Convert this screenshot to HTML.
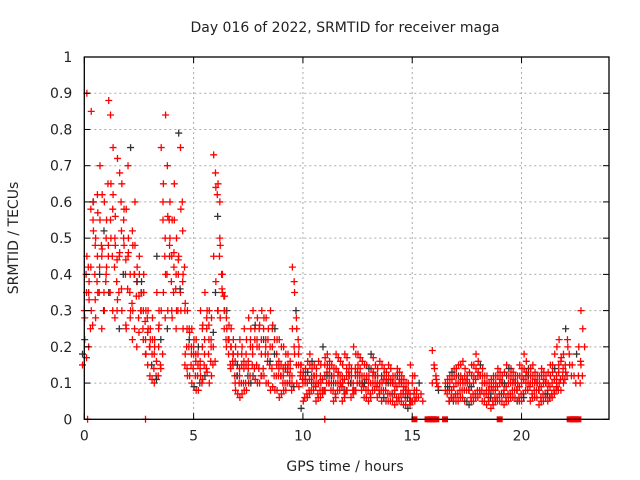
<!DOCTYPE html>
<html><head><meta charset="utf-8"><style>
body{margin:0;background:#fff}
svg{display:block;font-family:"DejaVu Sans","Liberation Sans",sans-serif}
</style></head><body>
<svg id="chart" width="640" height="480">
<text x="345" y="32" text-anchor="middle" font-size="14" fill="#222">Day 016 of 2022, SRMTID for receiver maga</text>
<text x="345" y="471" text-anchor="middle" font-size="14" fill="#222">GPS time / hours</text>
<text transform="translate(18,238) rotate(-90)" text-anchor="middle" font-size="14" fill="#222">SRMTID / TECUs</text>
<g id="grid"></g><g id="marks"></g><g id="axes"></g>
</svg>
<script>
const xTicks=[0,5,10,15,20];
const yTicks=[0,0.1,0.2,0.3,0.4,0.5,0.6,0.7,0.8,0.9,1];
const yTickLabels=["0","0.1","0.2","0.3","0.4","0.5","0.6","0.7","0.8","0.9","1"];
const hours=[0.0,0.2,0.4,0.6,0.8,1.0,1.2,1.4,1.6,1.8,2.0,2.2,2.4,2.6,2.8,3.0,3.2,3.4,3.6,3.8,4.0,4.2,4.4,4.6,4.8,5.0,5.2,5.4,5.6,5.8,6.0,6.2,6.4,6.6,6.8,7.0,7.2,7.4,7.6,7.8,8.0,8.2,8.4,8.6,8.8,9.0,9.2,9.4,9.6,9.8,10.0,10.2,10.4,10.6,10.8,11.0,11.2,11.4,11.6,11.8,12.0,12.2,12.4,12.6,12.8,13.0,13.2,13.4,13.6,13.8,14.0,14.2,14.4,14.6,14.8,15.0,15.2,15.4,16.0,16.2,16.6,16.8,17.0,17.2,17.4,17.6,17.8,18.0,18.2,18.4,18.6,18.8,19.0,19.2,19.4,19.6,19.8,20.0,20.2,20.4,20.6,20.8,21.0,21.2,21.4,21.6,21.8,22.0,22.2,22.4,22.6,22.8];
const values=[[18,30,40,15],[90,35,25,45,20],[85,60,40,30,55],[50,62,35,28,45],[70,45,30,55,25],[60,40,65,30,50],[88,84,45,35,55],[75,50,38,62,28],[72,45,60,33,25],[65,50,40,30,55],[58,45,35,25,70],[75,52,40,30,22],[48,38,28,60,20],[45,35,25,40,30],[35,22,28,40,18],[30,20,15,25,12],[28,18,12,22,10],[35,25,15,45,20],[75,60,45,30,55],[84,70,55,40,25],[60,45,35,50,30],[65,40,30,55,25],[79,75,60,45,35],[40,30,20,25,15],[30,22,15,12,25],[25,18,12,10,20],[22,15,10,8,18],[30,20,15,12,25],[35,25,18,12,28],[30,20,15,10,22],[73,68,62,45,35],[65,60,40,30,50],[40,30,22,35,25],[30,22,15,25,18],[25,18,12,20,15],[20,15,10,8,12],[22,15,10,6,18],[25,18,12,8,15],[28,20,15,10,22],[30,22,15,12,25],[28,20,12,10,25],[30,25,18,12,22],[28,22,15,10,18],[30,20,12,8,25],[25,18,12,8,15],[22,15,10,6,12],[20,14,10,8,15],[18,12,8,15,10],[42,38,30,25,20],[25,18,12,10,15],[15,10,6,3,12],[14,10,8,12,6],[18,12,8,15,10],[15,10,7,12,5],[16,12,8,10,6],[20,15,10,8,12],[18,12,8,15,10],[15,10,7,12,5],[18,12,8,14,10],[16,12,8,10,5],[18,14,10,7,12],[15,10,8,12,6],[20,14,10,8,12],[18,12,8,15,10],[16,12,8,10,6],[15,10,7,12,5],[18,12,8,14,10],[15,10,8,12,6],[16,12,8,10,5],[14,10,7,12,5],[15,10,7,12,5],[12,8,6,10,4],[14,10,7,12,5],[12,8,6,10,4],[10,7,5,8,3],[15,10,7,5],[12,8,6,5],[10,7,5],[19,15,12,10],[10,8],[10,7,5,8],[12,8,5,10,6],[14,10,7,12,5],[15,10,8,12,6],[16,12,8,10,5],[12,8,6,10,4],[15,10,7,12,5],[18,12,8,14,6],[15,10,7,12,5],[12,8,6,10,4],[10,7,5,8,3],[12,8,6,10,5],[14,10,7,12,5],[12,8,6,10,4],[15,10,7,12,5],[14,10,8,12,6],[12,8,6,10,5],[15,10,7,12,5],[18,12,8,14,10],[14,10,7,12,5],[15,10,8,12,6],[12,8,6,10,4],[14,10,7,12,5],[12,8,6,10,5],[15,10,8,12,6],[18,12,8,14,10],[22,16,12,10,8],[18,15,12,10],[20,15,12],[15,12,10],[18,12,10],[30,25,20,15]];
const hoursB=[0.1,0.3,0.5,0.7,0.9,1.1,1.3,1.5,1.7,1.9,2.1,2.3,2.5,2.7,2.9,3.1,3.3,3.5,3.7,3.9,4.1,4.3,4.5,4.7,4.9,5.1,5.3,5.5,5.7,5.9,6.1,6.3,6.5,6.7,6.9,7.1,7.3,7.5,7.7,7.9,8.1,8.3,8.5,8.7,8.9,9.1,9.3,9.5,9.7,9.9,10.1,10.3,10.5,10.7,10.9,11.1,11.3,11.5,11.7,11.9,12.1,12.3,12.5,12.7,12.9,13.1,13.3,13.5,13.7,13.9,14.1,14.3,14.5,14.7,14.9,15.1,16.1,16.7,16.9,17.1,17.3,17.5,17.7,17.9,18.1,18.3,18.5,18.7,18.9,19.1,19.3,19.5,19.7,19.9,20.1,20.3,20.5,20.7,20.9,21.1,21.3,21.5,21.7,21.9,22.1,22.7];
const valuesB=[[22,35,42,28,17],[33,42,26,38,58],[60,48,38,52,33],[57,42,48,35,40],[62,52,38,47,35],[55,45,35,42,48],[65,58,42,50,30],[56,44,35,48,30],[68,52,40,46,36],[58,44,36,48,26],[50,40,32,46,28],[48,40,34,30,25],[42,34,30,38,24],[38,30,27,35,22],[30,24,20,18,15],[25,18,14,22,11],[22,16,12,20,11],[30,22,18,26,14],[65,50,40,35,28],[56,45,38,30,48],[55,42,36,28,46],[50,44,36,30,40],[58,52,42,30,38],[32,25,20,18,14],[24,18,14,12,20],[22,16,12,9,18],[20,14,10,8,16],[26,18,14,11,22],[30,22,16,13,26],[28,20,16,12,24],[64,56,45,38,30],[48,40,34,28,36],[34,28,22,30,20],[26,20,16,22,14],[22,16,12,18,10],[18,14,10,7,12],[20,14,10,7,16],[22,16,12,8,14],[25,18,14,10,20],[26,20,14,11,22],[26,18,14,10,22],[28,22,16,12,20],[25,20,14,10,16],[26,18,12,9,22],[22,16,12,8,14],[20,14,10,7,12],[18,13,10,8,14],[16,12,9,14,10],[35,28,22,18,15],[20,15,11,9,13],[13,10,7,5,11],[16,11,8,13,7],[16,12,9,14,10],[14,10,8,12,6],[15,11,8,10,7],[17,13,10,8,12],[16,12,8,14,10],[14,10,8,12,6],[17,12,9,13,10],[15,11,8,10,6],[17,13,10,8,12],[14,10,8,12,7],[18,13,10,8,12],[17,12,9,14,10],[15,11,8,10,6],[14,10,8,12,6],[17,12,9,13,10],[14,10,8,12,7],[15,11,8,10,6],[13,10,7,11,5],[14,10,7,11,5],[12,9,6,10,5],[13,10,7,11,5],[11,8,6,9,4],[10,7,5,8,4],[12,8,6,5],[14,11,9],[11,8,6,9,5],[13,9,7,11,6],[14,10,8,12,5],[15,11,8,12,6],[14,11,8,10,5],[13,9,7,10,5],[15,11,8,12,6],[16,12,8,13,7],[14,10,7,12,5],[12,8,6,10,5],[11,8,6,9,4],[12,9,7,10,5],[13,10,7,11,5],[13,9,7,10,5],[14,10,8,12,6],[13,10,8,11,6],[12,9,7,10,5],[14,11,8,12,6],[16,12,9,13,10],[14,10,8,12,6],[13,10,8,11,6],[12,9,7,10,5],[13,10,7,11,6],[13,9,7,10,6],[15,11,8,13,7],[20,15,11,9,13],[17,14,11],[25,22,18,13],[20,16,12]];
const zeroHours=[15.1,15.7,15.8,15.9,16.0,16.1,16.5,19.0,22.2,22.3,22.4,22.5,22.6];
const grayZeroHours=[0.15,2.8,11.0];
const NS="http://www.w3.org/2000/svg";
const L=84.3,R=609,T=57,B=419.3;
const xs=h=>L+h/24*(R-L);
const ys=v=>B-v*(B-T);
function mk(tag,attrs,parent){const e=document.createElementNS(NS,tag);for(const k in attrs)e.setAttribute(k,attrs[k]);parent.appendChild(e);return e;}
const grid=document.getElementById('grid'),marks=document.getElementById('marks'),axes=document.getElementById('axes');
yTicks.forEach((t,i)=>{const y=ys(t);
 if(t>0&&t<1){const g=mk('line',{x1:L,x2:R,y1:y,y2:y,stroke:'#aaa','stroke-dasharray':'2,3'},grid);
 
 }
 mk('line',{x1:L,x2:L+6,y1:y,y2:y,stroke:'#000'},axes);mk('line',{x1:R,x2:R-6,y1:y,y2:y,stroke:'#000'},axes);
 const tx=mk('text',{x:L-12,y:y+5,'text-anchor':'end','font-size':14,fill:'#222'},axes);tx.textContent=yTickLabels[i];
 
 });
xTicks.forEach(t=>{const x=xs(t);
 if(t>0){const g=mk('line',{x1:x,x2:x,y1:T,y2:B,stroke:'#aaa','stroke-dasharray':'2,3'},grid);
 
 }
 mk('line',{x1:x,x2:x,y1:B,y2:B-6,stroke:'#000'},axes);mk('line',{x1:x,x2:x,y1:T,y2:T+6,stroke:'#000'},axes);
 const tx=mk('text',{x:x,y:B+21,'text-anchor':'middle','font-size':14,fill:'#222'},axes);tx.textContent=String(t);
 
 });
const fr=mk('rect',{x:L,y:T,width:R-L,height:B-T,fill:'none',stroke:'#000','stroke-width':1.3},axes);


function plus(x,y,c){const p=mk('path',{d:`M${x-3.5},${y}h7M${x},${y-3.5}v7`,stroke:c,'stroke-width':1.3,fill:'none'},marks);
 
 }
hours.forEach((h,i)=>{(values[i]||[]).forEach((v,k)=>{plus(xs(h)+(k%3-1)*1.8,ys(v/100),(i*5+k)%11===0?'#333':'#f00');});});
hoursB.forEach((h,i)=>{(valuesB[i]||[]).forEach((v,k)=>{plus(xs(h)+(k%3-1)*1.8,ys(v/100),(i*3+k)%13===0?'#333':'#f00');});});
zeroHours.forEach(h=>{const r=mk('rect',{x:xs(h)-3,y:B-3,width:6,height:6,fill:'#f00'},marks);
 
 });
grayZeroHours.forEach(h=>plus(xs(h),B,'#f00'));
</script>
</body></html>
